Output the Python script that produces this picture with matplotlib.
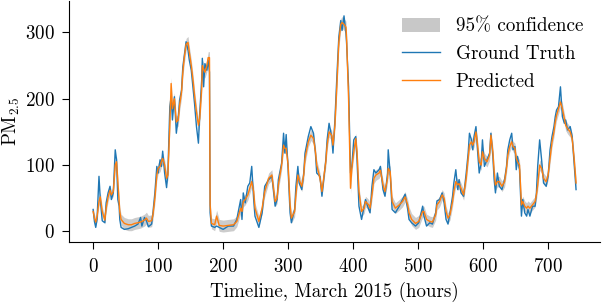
import matplotlib
matplotlib.use("Agg")
import matplotlib.pyplot as plt
from matplotlib.patches import Patch
from matplotlib.lines import Line2D
import numpy as np

hours = [0, 2, 4, 6, 9, 11, 14, 18, 20, 23, 26, 28, 31, 34, 36, 38, 40, 41, 43, 48,
         54, 59, 64, 69, 73, 75, 79, 82, 85, 90, 92, 95, 98, 100, 103, 105, 107, 110, 113, 115,
         118, 120, 122, 125, 128, 131, 133, 136, 138, 140, 143, 146, 148, 151, 154, 156, 159, 162, 164, 167,
         168, 170, 172, 175, 177, 179, 180, 182, 187, 190, 194, 200, 208, 216, 221, 224, 227, 229, 231, 234,
         238, 241, 244, 247, 249, 255, 260, 264, 270, 275, 280, 283, 285, 290, 293, 295, 297, 300, 303, 305,
         310, 312, 315, 317, 321, 324, 326, 331, 335, 339, 342, 344, 349, 352, 358, 360, 363, 367, 369, 372,
         375, 378, 381, 383, 386, 389, 390, 393, 396, 398, 401, 404, 406, 409, 413, 417, 419, 424, 426, 429,
         432, 435, 440, 442, 446, 449, 453, 454, 457, 460, 465, 471, 476, 480, 484, 486, 490, 496, 501, 507,
         509, 513, 518, 522, 527, 529, 533, 537, 540, 543, 546, 549, 553, 555, 558, 561, 563, 566, 570, 574,
         577, 579, 582, 584, 586, 589, 591, 594, 597, 599, 602, 606, 610, 612, 615, 617, 619, 622, 625, 629,
         633, 636, 638, 641, 644, 646, 649, 651, 653, 656, 659, 661, 664, 667, 669, 672, 676, 680, 682, 684,
         687, 690, 693, 697, 700, 703, 706, 709, 711, 713, 716, 719, 722, 725, 727, 730, 734, 737, 740, 742,
         743]

ground_truth = [33, 15, 6, 18, 83, 48, 16, 13, 43, 58, 68, 48, 58, 123, 108, 48, 38, 18, 6, 3,
                4, 6, 8, 11, 21, 8, 21, 16, 7, 11, 28, 58, 98, 88, 108, 98, 121, 88, 66, 88,
                188, 203, 168, 203, 148, 173, 198, 213, 248, 263, 286, 273, 258, 243, 213, 193, 158, 133, 178, 228,
                261, 218, 253, 243, 258, 240, 28, 8, 6, 8, 6, 3, 8, 8, 18, 33, 48, 18, 58, 43,
                68, 73, 98, 48, 23, 6, 28, 68, 78, 83, 38, 48, 78, 103, 148, 118, 146, 93, 28, 13,
                33, 68, 98, 73, 63, 88, 118, 143, 158, 148, 118, 88, 83, 53, 108, 138, 163, 143, 118, 168,
                233, 293, 318, 303, 325, 298, 283, 218, 88, 98, 138, 143, 108, 38, 18, 38, 48, 33, 28, 68,
                93, 88, 93, 98, 63, 53, 88, 123, 88, 33, 28, 38, 48, 56, 33, 18, 13, 8, 13, 38,
                23, 8, 13, 11, 28, 46, 48, 58, 43, 18, 11, 28, 53, 73, 93, 63, 78, 58, 53, 88,
                118, 148, 138, 123, 143, 158, 128, 88, 103, 138, 98, 108, 118, 148, 113, 78, 58, 88, 68, 63,
                78, 98, 123, 138, 148, 123, 128, 93, 113, 93, 23, 48, 28, 23, 33, 23, 38, 38, 58, 98,
                138, 108, 73, 68, 83, 123, 143, 158, 173, 183, 188, 218, 173, 163, 168, 153, 158, 143, 103, 78,
                63]

predicted = [30, 20, 14, 22, 45, 52, 30, 17, 35, 52, 62, 55, 60, 100, 105, 75, 45, 30, 18, 12,
             10, 10, 12, 13, 14, 15, 17, 20, 15, 16, 25, 50, 85, 95, 98, 105, 110, 100, 80, 85,
             160, 223, 185, 200, 165, 168, 190, 210, 240, 260, 282, 285, 270, 250, 225, 205, 180, 160, 170, 215,
             250, 245, 240, 250, 262, 262, 40, 12, 10, 23, 9, 8, 9, 10, 15, 25, 35, 30, 45, 48,
             55, 65, 75, 60, 35, 15, 35, 60, 80, 85, 45, 50, 70, 100, 130, 125, 125, 100, 40, 20,
             30, 55, 85, 78, 68, 85, 110, 135, 145, 140, 120, 100, 80, 60, 105, 130, 150, 145, 130, 160,
             220, 285, 312, 315, 312, 308, 290, 200, 65, 95, 120, 140, 120, 60, 30, 35, 45, 40, 35, 55,
             80, 85, 88, 92, 70, 60, 80, 95, 90, 45, 35, 40, 45, 52, 40, 28, 18, 12, 15, 30,
             30, 18, 15, 14, 25, 40, 45, 55, 50, 30, 20, 25, 45, 60, 75, 70, 72, 65, 55, 80,
             110, 130, 135, 130, 135, 150, 135, 105, 100, 120, 110, 105, 115, 145, 120, 90, 70, 75, 75, 68,
             75, 95, 115, 128, 135, 128, 125, 110, 105, 100, 40, 45, 38, 35, 38, 35, 40, 45, 55, 70,
             100, 95, 80, 75, 85, 110, 135, 150, 165, 175, 185, 195, 185, 170, 160, 155, 150, 140, 110, 85,
             73]

ci_half = [6, 6, 6, 6, 7, 7, 7, 6, 6, 7, 7, 7, 7, 8, 8, 8, 7, 7, 8, 9,
           9, 9, 9, 9, 9, 9, 9, 9, 9, 9, 8, 8, 8, 8, 8, 8, 8, 8, 8, 8,
           9, 9, 9, 9, 9, 9, 9, 9, 9, 9, 9, 9, 9, 9, 9, 9, 9, 9, 9, 9,
           9, 9, 9, 9, 9, 9, 8, 8, 9, 9, 9, 9, 9, 9, 8, 8, 8, 8, 8, 8,
           8, 8, 8, 8, 8, 8, 8, 8, 8, 8, 8, 8, 8, 8, 8, 8, 8, 8, 8, 8,
           8, 8, 8, 8, 8, 8, 8, 8, 8, 8, 8, 8, 8, 8, 8, 8, 8, 8, 8, 8,
           9, 9, 9, 9, 9, 9, 9, 9, 8, 8, 8, 8, 8, 8, 8, 8, 8, 8, 8, 8,
           8, 8, 8, 8, 8, 8, 8, 8, 8, 8, 8, 8, 8, 8, 8, 9, 9, 9, 9, 8,
           8, 8, 8, 8, 8, 8, 8, 8, 8, 8, 8, 8, 8, 8, 8, 8, 8, 8, 8, 8,
           8, 8, 8, 8, 8, 8, 8, 8, 8, 8, 8, 8, 8, 8, 8, 8, 8, 8, 8, 8,
           8, 8, 8, 8, 8, 8, 8, 8, 8, 8, 8, 8, 8, 8, 8, 8, 8, 8, 8, 8,
           8, 8, 8, 8, 8, 8, 8, 8, 8, 8, 8, 8, 8, 8, 8, 8, 8, 8, 8, 8,
           8]

x_ticks = [0, 100, 200, 300, 400, 500, 600, 700]
y_ticks = [0, 100, 200, 300]

plt.rcParams['font.family'] = 'serif'
plt.rcParams['font.serif'] = ['cmr10', 'DejaVu Serif']
plt.rcParams['mathtext.fontset'] = 'cm'
plt.rcParams['axes.formatter.use_mathtext'] = True
plt.rcParams['axes.unicode_minus'] = False

FS = 13.7

fig = plt.figure(figsize=(6.02, 3.04), dpi=100)
ax = fig.add_axes([0.1146, 0.204, 0.8824, 0.794])

h = np.array(hours, dtype=float)
gt = np.array(ground_truth, dtype=float)
pr = np.array(predicted, dtype=float)
ci = np.array(ci_half, dtype=float)

ax.fill_between(h, pr - ci, pr + ci, color='gray', alpha=0.4, linewidth=0)
ax.plot(h, gt, color='#1f77b4', lw=1.0)
ax.plot(h, pr, color='#ff7f0e', lw=1.0)

ax.set_xlim(-37.15, 780.15)
ax.set_ylim(-16, 348)
ax.set_xticks(x_ticks)
ax.set_yticks(y_ticks)
ax.tick_params(axis='x', labelsize=FS, length=5, width=0.8, pad=6.5)
ax.tick_params(axis='y', labelsize=FS, length=5, width=0.8, pad=5.5)
for s in ['top', 'right']:
    ax.spines[s].set_visible(False)

ax.set_xlabel('Timeline, March 2015 (hours)', fontsize=FS, labelpad=4)
ax.set_ylabel(r'PM$_{2.5}$', fontsize=FS, labelpad=2)

handles = [Patch(facecolor='#c8c8c8', edgecolor='none'),
           Line2D([0], [0], color='#1f77b4', lw=1.0),
           Line2D([0], [0], color='#ff7f0e', lw=1.0)]
ax.legend(handles, ['95% confidence', 'Ground Truth', 'Predicted'],
          loc='upper right', frameon=False, fontsize=FS, handlelength=2.0)

fig.savefig('out.png', dpi=100)
